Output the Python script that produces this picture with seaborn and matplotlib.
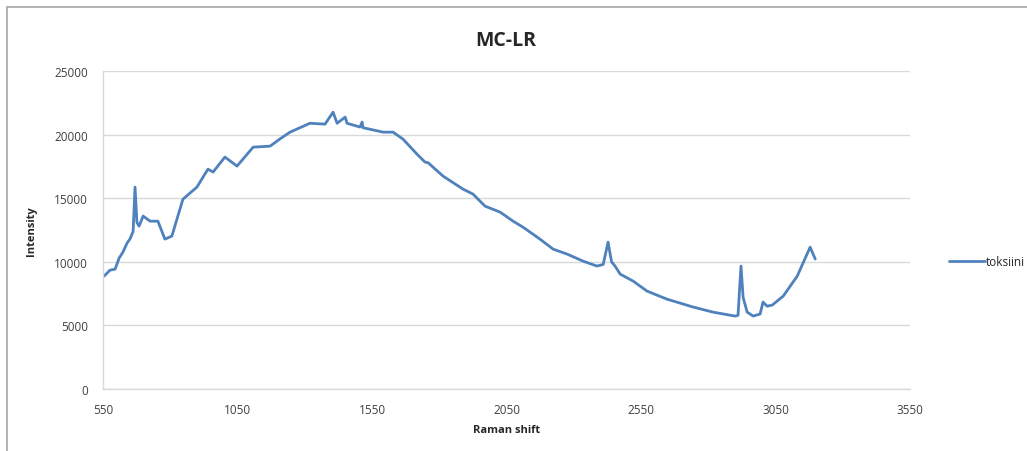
import pandas as pd
import matplotlib
matplotlib.use("Agg")
import matplotlib.pyplot as plt
import seaborn as sns
from matplotlib.lines import Line2D

# Raman spectrum of MC-LR
raman_shift = [554, 576, 595, 610, 624, 640, 650, 662, 669, 676, 684, 699, 725, 754,
               780, 806, 847, 899, 940, 959, 1003, 1048, 1108, 1171, 1210, 1245, 1312,
               1319, 1375, 1405, 1420, 1450, 1457, 1505, 1513, 1516, 1591, 1628,
               1665, 1717, 1747, 1758, 1814, 1888, 1925, 1970, 2026, 2074, 2111,
               2174, 2223, 2275, 2334, 2386, 2409, 2427, 2440, 2453, 2472, 2520,
               2572, 2646, 2743, 2817, 2899, 2910, 2921, 2929, 2944, 2966, 2992,
               3003, 3018, 3037, 3078, 3130, 3178, 3197]
intensity = [8880, 9350, 9430, 10300, 10770, 11500, 11790, 12400, 15880, 13100, 12810,
             13600, 13200, 13200, 11790, 12030, 14930, 15880, 17290, 17060, 18240,
             17530, 19020, 19100, 19700, 20200, 20830, 20900, 20830, 21770, 20900, 21380,
             20900, 20600, 20990, 20550, 20200, 20200, 19650, 18470, 17840, 17800,
             16740, 15720, 15330, 14380, 13910, 13200, 12730, 11790, 11000, 10610,
             10060, 9670, 9800, 11550, 10000, 9670, 9040, 8490, 7700, 7070, 6450,
             6050, 5740, 5800, 9670, 7200, 6050, 5740, 5900, 6840, 6520, 6600, 7310,
             8880, 11160, 10220]
series_name = "toksiini"
x_ticks = [550, 1050, 1550, 2050, 2550, 3050, 3550]
y_ticks = [0, 5000, 10000, 15000, 20000, 25000]

df = pd.DataFrame({"Raman shift": raman_shift, "Intensity": intensity, "series": series_name})

sns.set_style("white")
plt.rcParams["font.family"] = ["Open Sans", "DejaVu Sans"]

fig = plt.figure(figsize=(10.27, 4.52), dpi=100)
ax = fig.add_axes([0.1003, 0.137, 0.786, 0.7035])

sns.lineplot(data=df, x="Raman shift", y="Intensity", hue="series", sort=False,
             palette=["#4F81BD"], linewidth=2.0, ax=ax)

ax.set_xlim(550, 3550)
ax.set_ylim(0, 25000)
ax.set_xticks(x_ticks)
ax.set_yticks(y_ticks)
ax.tick_params(axis="both", labelsize=8.5, colors="#404040", length=0)
ax.tick_params(axis="y", pad=11)
ax.tick_params(axis="x", pad=10)
ax.yaxis.grid(True, color="#D9D9D9", linewidth=1)
ax.xaxis.grid(False)
for s in ["top", "right"]:
    ax.spines[s].set_visible(False)
for s in ["left", "bottom"]:
    ax.spines[s].set_color("#D9D9D9")
    ax.spines[s].set_linewidth(1)

ax.set_xlabel("Raman shift", fontsize=8, fontweight="bold", labelpad=6)
ax.set_ylabel("Intensity", fontsize=8, fontweight="bold", labelpad=12)
fig.text(0.492, 0.91, "MC-LR", ha="center", va="center", fontsize=14, fontweight="bold")

ax.legend(loc="center left", bbox_to_anchor=(1.035, 0.4), frameon=False,
          fontsize=8.5, handlelength=3, handletextpad=0.1)

# chart frame (top and left edges visible)
fig.add_artist(Line2D([0.007, 0.007], [0.0, 0.983], color="#A6A6A6", linewidth=1.2))
fig.add_artist(Line2D([0.007, 1.0], [0.983, 0.983], color="#A6A6A6", linewidth=1.2))

fig.savefig("out.png", dpi=100)
